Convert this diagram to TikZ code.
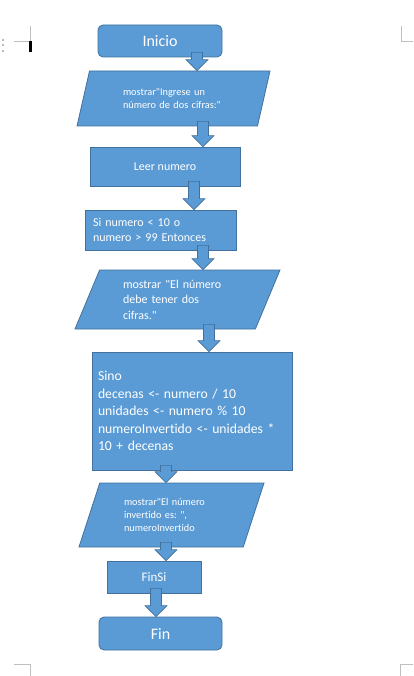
\documentclass[tikz,border=0pt]{standalone}
\usepackage{fontspec}
\setmainfont{Carlito}[Ligatures={TeXOff,NoCommon}]
\usetikzlibrary{positioning,shapes.geometric,calc}
\definecolor{azul}{HTML}{5B9BD5}
\definecolor{borde}{HTML}{41719C}
\definecolor{marca}{HTML}{BFBFBF}
\frenchspacing

\begin{document}
\begin{tikzpicture}[x=1pt, y=-1pt,
    caja/.style={draw=borde, fill=azul, text=white, line width=0.8pt, inner sep=0pt},
    terminal/.style={caja, rounded corners=5pt, font=\fontsize{16}{19}\selectfont},
    proceso/.style={caja, font=\fontsize{12}{15}\selectfont},
    datos/.style={caja, trapezium, trapezium left angle=58, trapezium right angle=122,
        trapezium stretches body, align=left},
    flecha/.style={draw=borde, fill=azul, line width=0.6pt},
    marcas/.style={draw=marca, line width=0.8pt},
]
\useasboundingbox[fill=white] (0,0) rectangle (413,676);

% --- marcas de pagina ---
\draw[marcas] (30,26) -- (30,41) -- (14,41);
\draw[marcas] (401,26) -- (401,41) -- (413,41);
\draw[marcas] (14,664) -- (30,664) -- (30,676);
\draw[marcas] (413,664) -- (400,664) -- (400,676);
\foreach \yy in {40,45,51} {
    \fill[gray!70] (3,\yy) circle (1.1pt);
}
\fill[black] (29,41) rectangle (31.5,52);

% --- diagrama ---
\node[terminal, minimum width=124pt, minimum height=32pt] (inicio) at (160,41) {Inicio};
\node[datos, minimum width=193pt, minimum height=55pt, text width=101pt,
    font=\fontsize{10.3}{13}\selectfont] (p1) at (173.5,98.5)
    {mostrar"Ingrese un\\ número de dos cifras:"};
\node[proceso, minimum width=150pt, minimum height=39pt] (leer) at (165,166.5) {Leer numero};
\node[proceso, minimum width=151pt, minimum height=40pt, text width=135pt, align=left] (si) at (160.5,230)
    {Si numero < 10 o\\ numero > 99 Entonces};
\node[datos, minimum width=205pt, minimum height=59pt, text width=109pt,
    font=\fontsize{12}{15.5}\selectfont] (p2) at (177.5,299.5)
    {mostrar "El número\\ debe tener dos\\ cifras."};
\node[caja, minimum width=200pt, minimum height=118pt, text width=188pt, align=left,
    font=\fontsize{13.7}{17.6}\selectfont] (sino) at (192,411)
    {Sino\\ decenas <- numero / 10\\ unidades <- numero \% 10\\ numeroInvertido <- unidades *\\ 10 + decenas};
\node[datos, minimum width=185pt, minimum height=64pt, text width=95pt,
    font=\fontsize{10.3}{13}\selectfont] (p3) at (171.5,515)
    {mostrar"El número\\ invertido es: ",\\ numeroInvertido};
\node[proceso, minimum width=94pt, minimum height=32pt, font=\fontsize{13}{16}\selectfont] (finsi) at (154,577) {FinSi};
\node[terminal, minimum width=123pt, minimum height=33pt] (fin) at (160.5,633.5) {Fin};

% flechas de bloque
\foreach \de/\a/\ax in {inicio/p1/197, p1/leer/203, leer/si/194, si/p2/203,
                        p2/sino/209, sino/p3/166, p3/finsi/166, finsi/fin/156} {
    \coordinate (ejeX) at (\ax,0);
    \coordinate (t) at ($(\de.south -| ejeX)+(0,-5)$);
    \coordinate (b) at (\a.north -| ejeX);
    \draw[flecha] ($(t)+(-5.5,0)$) -- ($(t)+(5.5,0)$) -- ($(b)+(5.5,-11)$) -- ($(b)+(11,-11)$)
        -- (b) -- ($(b)+(-11,-11)$) -- ($(b)+(-5.5,-11)$) -- cycle;
}

\end{tikzpicture}
\end{document}
